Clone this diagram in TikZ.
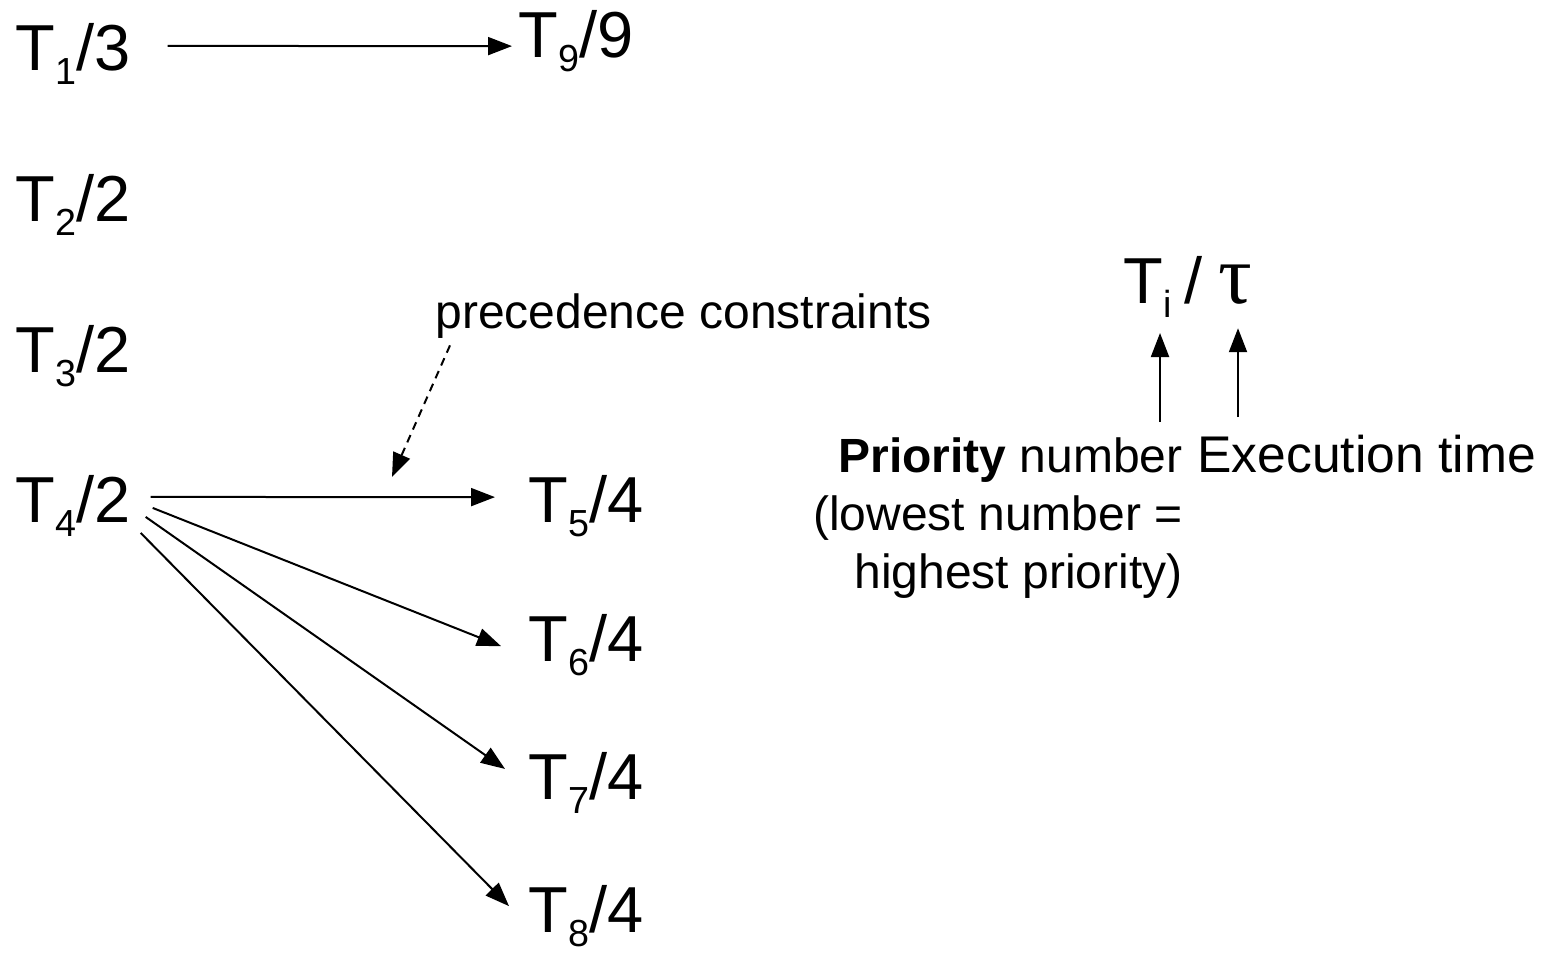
\documentclass[tikz,border=0pt]{standalone}
\usepackage{fontspec}
\setmainfont{Liberation Sans}
\newfontfamily\greekfont{Liberation Serif}
\usetikzlibrary{arrows.meta}
\newcommand{\tsub}[1]{\raisebox{-0.23em}{\scalebox{0.58}{#1}}}

\begin{document}
\begin{tikzpicture}[x=0.5pt,y=-0.5pt,
  task/.style={inner sep=0,anchor=base west,font=\fontsize{32.5}{39}\selectfont},
  lbl/.style={inner sep=0,font=\fontsize{24}{29}\selectfont},
  arr/.style={line width=1pt,-{Triangle[length=12pt,width=9pt]}}]
\useasboundingbox (0,0) rectangle (1550,954);

\node[task] (t1) at (15,70) {T\tsub{1}/3};
\node[task] (t2) at (15,221) {T\tsub{2}/2};
\node[task] (t3) at (15,372) {T\tsub{3}/2};
\node[task] (t4) at (15,522) {T\tsub{4}/2};
\node[task] (t5) at (528,522) {T\tsub{5}/4};
\node[task] (t6) at (528,661) {T\tsub{6}/4};
\node[task] (t7) at (528,799) {T\tsub{7}/4};
\node[task] (t8) at (528,932) {T\tsub{8}/4};
\node[task] (t9) at (518,57) {T\tsub{9}/9};

\node[task] (key) at (1123,303)
  {T\tsub{i}\hspace{0.2em}/\hspace{0.25em}{\greekfont\fontsize{42}{42}\selectfont τ}};
\node[lbl,anchor=north east,align=right] (prio) at (1183,437)
  {\textbf{Priority} number\\(lowest number =\\highest priority)};
\node[lbl,anchor=base west,font=\fontsize{25.8}{29}\selectfont] (exec) at (1197,472) {Execution time};
\node[lbl,anchor=base west] (prec) at (435,328) {precedence constraints};
\coordinate (hint) at (392,477);

\draw[arr] ([shift={(37,-8)}]t1.east) -- ([shift={(-6,5)}]t9.west);
\draw[arr] ([shift={(20,-9)}]t4.east) -- ([shift={(-33,-9)}]t5.west);
\draw[arr] ([shift={(22,2)}]t4.east) -- ([shift={(-27,1)}]t6.west);
\draw[arr] ([shift={(15,11)}]t4.east) -- ([shift={(-23,-14)}]t7.west);
\draw[arr] ([shift={(10,27)}]t4.east) -- ([shift={(-19,-10)}]t8.west);
\draw[arr,dash pattern=on 4pt off 3pt] ([shift={(15,7)}]prec.south west) -- (hint);

\draw[arr] (prio.north east) ++(-23,-15) -- ++(0,-89);
\draw[arr] (exec.north west) ++(41,-17) -- ++(0,-89);

\end{tikzpicture}
\end{document}
